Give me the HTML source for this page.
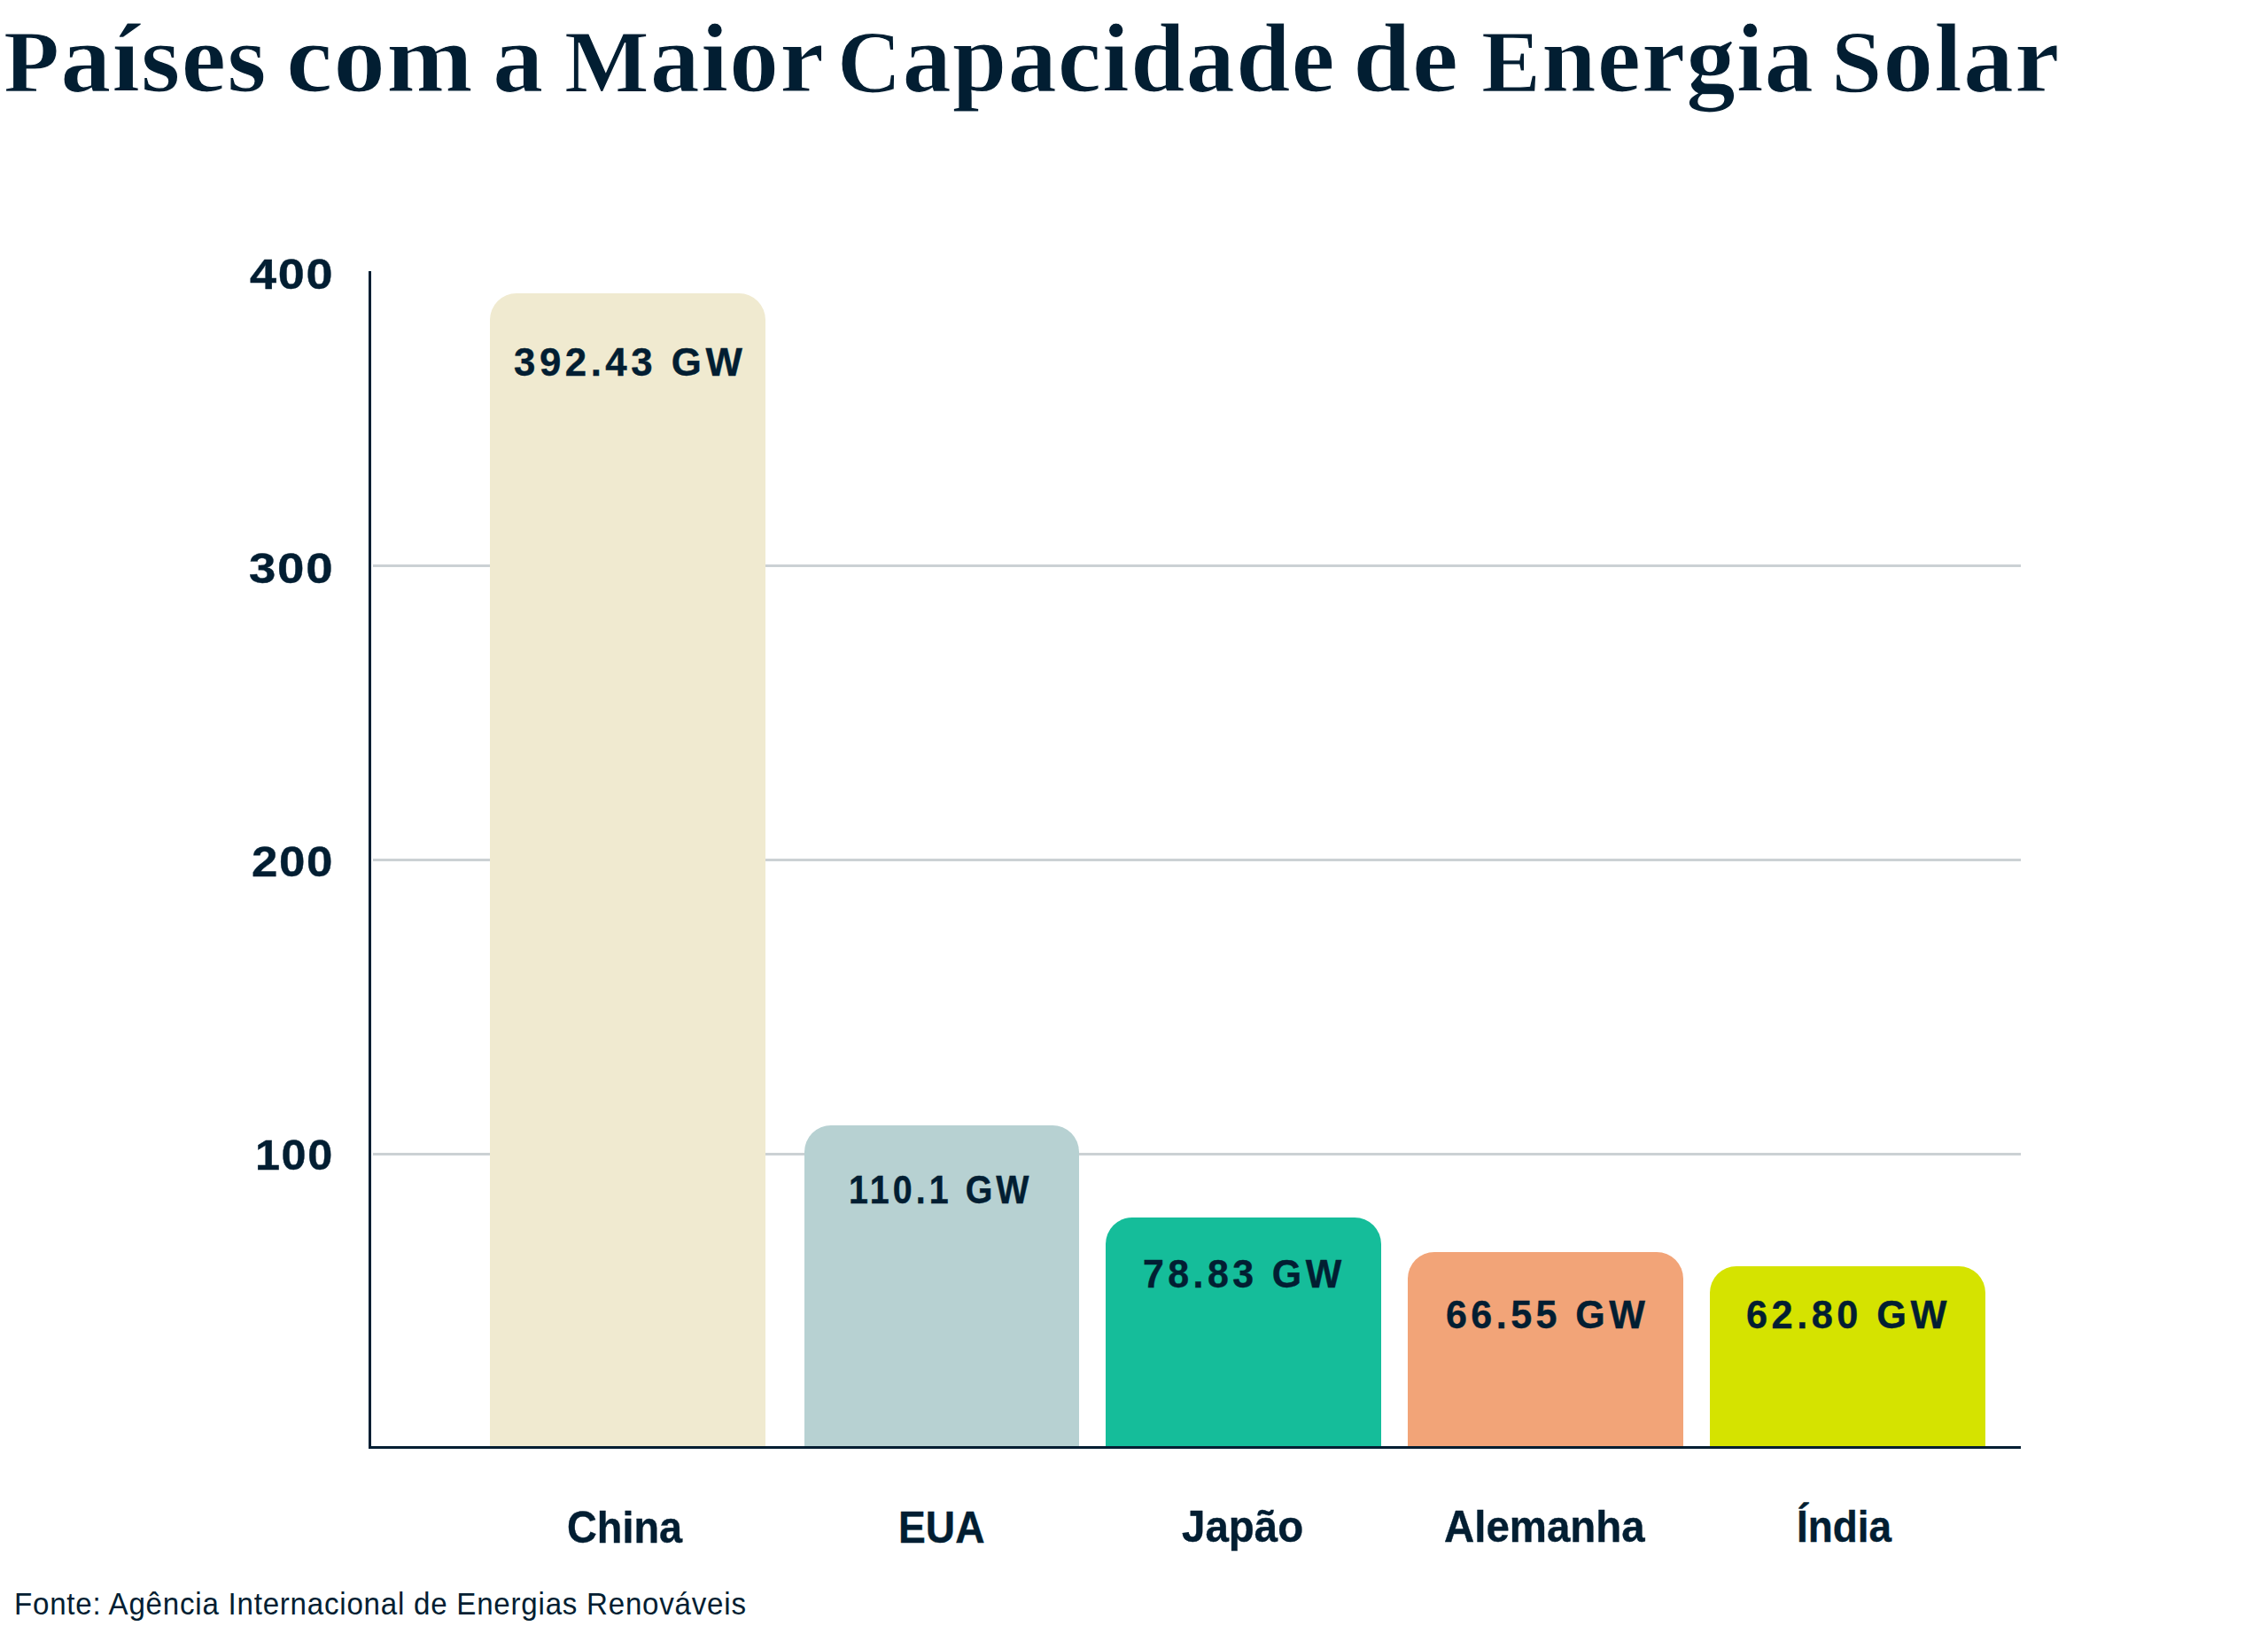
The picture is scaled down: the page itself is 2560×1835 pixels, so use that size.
<!DOCTYPE html>
<html>
<head>
<meta charset="utf-8">
<style>
html, body { margin: 0; padding: 0; }
body { width: 2560px; height: 1835px; background: #ffffff; position: relative; overflow: hidden; color: #021e32; }
.t { position: absolute; white-space: nowrap; line-height: 1; transform-origin: 0 0; }
.serif { font-family: "Liberation Serif", serif; font-weight: bold; }
.cap { font-size: 99px; }
.serif { letter-spacing: 1px; -webkit-text-stroke: 1.2px #ffffff; }
.sans { font-family: "Liberation Sans", sans-serif; }
.b { font-weight: bold; -webkit-text-stroke: 0.4px #021e32; }
#v0,#v1,#v2,#v3,#v4 { letter-spacing: 4.5px; }
#y0,#y1,#y2,#y3 { letter-spacing: 1.5px; }
.reg { font-weight: normal; letter-spacing: 0.8px; }
.grid { position: absolute; left: 421px; width: 1860px; height: 3px; background: #cbd1d4; }
.bar { position: absolute; border-radius: 30px 30px 0 0; }
.axis { position: absolute; background: #021e32; }
</style>
</head>
<body>
<div class="grid" style="top:637px"></div>
<div class="grid" style="top:969px"></div>
<div class="grid" style="top:1301px"></div>
<div class="bar" style="left:553px;top:331px;width:311px;height:1302px;background:#f0ead0"></div>
<div class="bar" style="left:908px;top:1270px;width:310px;height:363px;background:#b7d1d2"></div>
<div class="bar" style="left:1248px;top:1374px;width:311px;height:259px;background:#15bd9a"></div>
<div class="bar" style="left:1589px;top:1413px;width:311px;height:220px;background:#f2a478"></div>
<div class="bar" style="left:1930px;top:1429px;width:311px;height:204px;background:#d5e300"></div>
<div class="axis" style="left:416px;top:306px;width:3px;height:1329px"></div>
<div class="axis" style="left:416px;top:1632px;width:1865px;height:3px"></div>
<div class="t serif" id="w0" style="left:3.91px;top:11.59px;font-size:109.5px;transform:scaleX(1.0431)"><span class="cap">P</span>aíses</div>
<div class="t serif" id="w1" style="left:322.52px;top:11.59px;font-size:109.5px;transform:scaleX(1.0732)">com</div>
<div class="t serif" id="w2" style="left:556.02px;top:11.59px;font-size:109.5px;transform:scaleX(1.0485)">a</div>
<div class="t serif" id="w3" style="left:636.96px;top:11.59px;font-size:109.5px;transform:scaleX(1.0246)"><span class="cap">M</span>aior</div>
<div class="t serif" id="w4" style="left:944.93px;top:11.59px;font-size:109.5px;transform:scaleX(1.0121)"><span class="cap">C</span>apacidade</div>
<div class="t serif" id="w5" style="left:1527.00px;top:11.59px;font-size:109.5px;transform:scaleX(1.0771)">de</div>
<div class="t serif" id="w6" style="left:1672.18px;top:11.59px;font-size:109.5px;transform:scaleX(1.0132)"><span class="cap">E</span>nergia</div>
<div class="t serif" id="w7" style="left:2066.77px;top:11.59px;font-size:109.5px;transform:scaleX(1.0407)"><span class="cap">S</span>olar</div>
<div class="t sans b" id="y0" style="left:282.09px;top:285.02px;font-size:49px;transform:scaleX(1.1028)">400</div>
<div class="t sans b" id="y1" style="left:281.06px;top:616.52px;font-size:49px;transform:scaleX(1.1152)">300</div>
<div class="t sans b" id="y2" style="left:283.71px;top:948.02px;font-size:49px;transform:scaleX(1.0794)">200</div>
<div class="t sans b" id="y3" style="left:288.09px;top:1279.42px;font-size:49px;transform:scaleX(1.0284)">100</div>
<div class="t sans b" id="v0" style="left:580.13px;top:387.89px;font-size:43.6px;transform:scaleX(1.0048)">392.43 GW</div>
<div class="t sans b" id="v1" style="left:958.39px;top:1321.89px;font-size:43.6px;transform:scaleX(0.9029)">110.1 GW</div>
<div class="t sans b" id="v2" style="left:1290.30px;top:1416.69px;font-size:43.6px;transform:scaleX(0.9841)">78.83 GW</div>
<div class="t sans b" id="v3" style="left:1631.54px;top:1462.69px;font-size:43.6px;transform:scaleX(0.9870)">66.55 GW</div>
<div class="t sans b" id="v4" style="left:1971.03px;top:1462.69px;font-size:43.6px;transform:scaleX(0.9938)">62.80 GW</div>
<div class="t sans b" id="x0" style="left:640.04px;top:1698.68px;font-size:49.4px;transform:scaleX(0.9476)">China</div>
<div class="t sans b" id="x1" style="left:1014.20px;top:1698.68px;font-size:49.4px;transform:scaleX(0.9350)">EUA</div>
<div class="t sans b" id="x2" style="left:1334.44px;top:1698.18px;font-size:49.4px;transform:scaleX(0.9608)">Japão</div>
<div class="t sans b" id="x3" style="left:1630.04px;top:1698.18px;font-size:49.4px;transform:scaleX(0.9596)">Alemanha</div>
<div class="t sans b" id="x4" style="left:2028.43px;top:1698.18px;font-size:49.4px;transform:scaleX(0.9285)">Índia</div>
<div class="t sans reg" id="f0" style="left:16.17px;top:1792.37px;font-size:35px;transform:scaleX(0.9464)">Fonte: Agência Internacional de Energias Renováveis</div>
</body>
</html>
